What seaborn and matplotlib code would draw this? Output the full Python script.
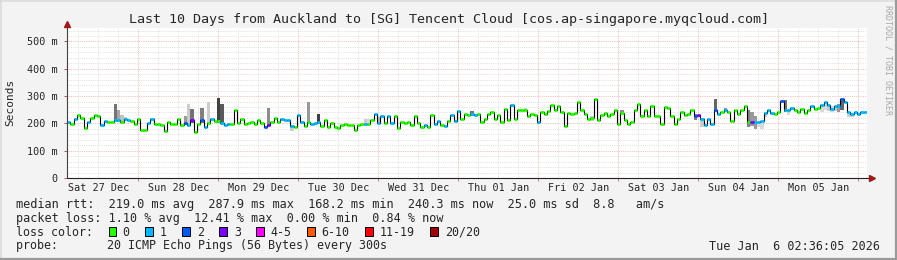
import numpy as np
import pandas as pd
import matplotlib
matplotlib.use("Agg")
import matplotlib.pyplot as plt
import seaborn as sns
from matplotlib.patches import Rectangle
from matplotlib.lines import Line2D

# ---------------- data (hourly median RTT in ms, start = 27 Dec 02:36) ----------------
median_ms = [
    205, 198, 217, 229, 220, 182, 204, 220, 229, 226,
    193, 210, 205, 205, 213, 213, 205, 216, 212, 207,
    198, 216, 177, 177, 201, 216, 198, 198, 195, 171,
    205, 198, 198, 216, 193, 201, 195, 211, 168, 198,
    211, 185, 201, 216, 207, 207, 201, 193, 198, 198,
    248, 201, 216, 199, 201, 204, 198, 211, 201, 187,
    195, 205, 220, 205, 217, 211, 211, 189, 186, 229,
    205, 189, 205, 198, 201, 205, 189, 213, 186, 201,
    186, 183, 195, 198, 195, 193, 177, 193, 198, 199,
    198, 211, 234, 201, 226, 201, 226, 200, 226, 183,
    205, 201, 205, 193, 226, 201, 186, 193, 186, 232,
    199, 210, 195, 189, 207, 232, 210, 244, 217, 236,
    229, 236, 229, 236, 204, 217, 236, 241, 217, 229,
    204, 254, 213, 268, 217, 250, 248, 250, 228, 236,
    232, 205, 241, 236, 244, 266, 248, 262, 240, 189,
    238, 234, 238, 277, 248, 236, 216, 220, 289, 211,
    229, 238, 226, 234, 248, 199, 238, 213, 199, 205,
    248, 272, 226, 248, 226, 262, 226, 228, 198, 260,
    256, 226, 198, 217, 240, 229, 236, 248, 228, 229,
    217, 193, 217, 198, 250, 234, 241, 248, 241, 207,
    248, 236, 248, 262, 204, 205, 205, 205, 207, 238,
    248, 238, 236, 240, 283, 250, 250, 256, 248, 240,
    254, 238, 248, 262, 254, 256, 268, 278, 268, 252,
    265, 262, 290, 278, 240, 236, 240, 236, 240, 240,
]

# hours with lost pings (all others: 0 lost)
loss1_hours = [0, 2, 6, 10, 11, 14, 15, 17, 18, 24, 25, 36, 41, 43, 46, 47, 48,
               64, 65, 66, 67, 69, 70, 73, 74, 75, 89, 92, 93, 94, 96, 97, 107,
               110, 111, 113, 115, 116, 117, 121, 122, 133, 141, 190, 191, 192,
               193, 195, 197, 206, 207, 208, 209, 210, 211, 215, 216, 217, 223,
               226, 227, 228, 229, 230, 231, 233, 234, 235, 236, 237, 238, 239]
loss2_hours = [35, 40, 59, 188, 194, 214, 232]
loss3_hours = [37, 60, 189, 205]

# smoke (spread of the 20 pings) where visible
smoke_hours = [14, 15, 16, 17, 35, 36, 37, 40, 42, 45, 46, 60, 67, 72, 75, 89, 90, 93,
               121, 137, 141, 157, 166, 188, 190, 194, 197, 204, 205, 206, 207, 208,
               209, 215, 216, 226, 227, 228, 229, 230, 231, 232, 234, 235]
smoke_lo = [205, 205, 205, 208, 195, 190, 200, 200, 196, 200, 200, 193, 172, 198, 200,
            198, 198, 198, 228, 245, 198, 210, 236, 212, 188, 248, 245, 185, 190, 180,
            185, 180, 225, 240, 232, 240, 250, 245, 240, 245, 240, 250, 225, 222]
smoke_hi = [272, 250, 232, 225, 228, 272, 252, 256, 280, 293, 270, 255, 195, 277, 234,
            215, 215, 225, 245, 258, 210, 228, 248, 236, 217, 289, 256, 250, 240, 228,
            205, 205, 240, 287, 250, 268, 278, 270, 262, 265, 270, 290, 240, 236]
smoke_grey = [0.45, 0.65, 0.75, 0.8, 0.6, 0.8, 0.45, 0.5, 0.8, 0.25, 0.35, 0.55, 0.8,
              0.6, 0.25, 0.8, 0.85, 0.75, 0.45, 0.8, 0.5, 0.8, 0.55, 0.5, 0.8, 0.4,
              0.6, 0.5, 0.6, 0.6, 0.85, 0.85, 0.8, 0.45, 0.85, 0.85, 0.85, 0.8, 0.85,
              0.8, 0.6, 0.4, 0.8, 0.8]

day_labels = ["Sat 27 Dec", "Sun 28 Dec", "Mon 29 Dec", "Tue 30 Dec", "Wed 31 Dec",
              "Thu 01 Jan", "Fri 02 Jan", "Sat 03 Jan", "Sun 04 Jan", "Mon 05 Jan"]
first_midnight_h = 21.4   # 28 Dec 00:00, hours after graph start
y_ticks = [0, 100, 200, 300, 400, 500]
y_tick_labels = ["0", "100 m", "200 m", "300 m", "400 m", "500 m"]

loss_labels = ["0", "1", "2", "3", "4-5", "6-10", "11-19", "20/20"]
loss_colors = ["#26ff00", "#00b8ff", "#0059ff", "#7a00ff", "#ff00ff", "#ff5a00", "#ff0000", "#a00000"]

title = "Last 10 Days from Auckland to [SG] Tencent Cloud [cos.ap-singapore.myqcloud.com]"
legend_lines = [
    "median rtt:  219.0 ms avg  287.9 ms max  168.2 ms min  240.3 ms now  25.0 ms sd  8.8   am/s",
    "packet loss: 1.10 % avg  12.41 % max  0.00 % min  0.84 % now",
    "loss color:",
    "probe:       20 ICMP Echo Pings (56 Bytes) every 300s",
]
timestamp = "Tue Jan  6 02:36:05 2026"

# ---------------- figure ----------------
sns.set_style("white")
plt.rcParams["font.family"] = ["DejaVu Sans Mono", "DejaVu Sans"]

W, H = 897, 260
fig = plt.figure(figsize=(W / 100, H / 100), dpi=100, facecolor="#f3f3f3")

def fx(px):
    return px / W

def fy(py):
    return 1 - py / H

ax = fig.add_axes([fx(67), fy(178), fx(800), 150.2 / H])
ax.set_facecolor("white")

n = len(median_ms)
hours = np.arange(n)
ax.set_xlim(0, 240)
ax.set_ylim(0, 550)

# grid
grid_minor = dict(color="#dadada", lw=0.6, ls=(0, (1, 1.2)), zorder=0)
grid_major = dict(color="#f2a8a8", lw=0.6, ls=(0, (1, 1.2)), zorder=0)
for v in range(20, 551, 20):
    if v % 100 != 0:
        ax.axhline(v, **grid_minor)
for v in y_ticks[1:]:
    ax.axhline(v, **grid_major)
day_bounds = [first_midnight_h + 24 * k for k in range(10)]
for k in range(41):
    h = first_midnight_h - 18 + 6 * k
    if 0 < h < 240 and all(abs(h - d) > 0.1 for d in day_bounds):
        ax.axvline(h, **grid_minor)
for d in day_bounds:
    ax.axvline(d, **grid_major)

# smoke
ax.bar(smoke_hours, np.array(smoke_hi) - np.array(smoke_lo), bottom=smoke_lo, width=1.0,
       align="edge", color=[str(g) for g in smoke_grey], linewidth=0, zorder=1)

# median step line (black)
df = pd.DataFrame({"h": np.append(hours, n), "ms": median_ms + [median_ms[-1]]})
sns.lineplot(data=df, x="h", y="ms", drawstyle="steps-post", color="black", lw=0.8,
             ax=ax, zorder=2, legend=False)

# coloured median segments by loss
loss = np.zeros(n, dtype=int)
loss[loss1_hours] = 1
loss[loss2_hours] = 2
loss[loss3_hours] = 3
seg_colors = [loss_colors[c] for c in loss]
ax.hlines(median_ms, hours, hours + 1, colors=seg_colors, lw=2.0, zorder=3)

ax.set_xlabel("")
ax.set_ylabel("")
for s in ax.spines.values():
    s.set_visible(False)

ax.set_yticks(y_ticks)
ax.set_yticklabels(y_tick_labels, fontsize=7.3)
ax.tick_params(axis="y", length=2.5, width=0.7, color="#c05050", pad=4, left=True)
ax.set_xticks(day_bounds)
ax.set_xticklabels([""] * len(day_bounds))
ax.tick_params(axis="x", length=2.5, width=0.7, color="#e08080", bottom=True, direction="out")

for k, lab in enumerate(day_labels):
    ax.annotate(lab, xy=(first_midnight_h - 12 + 24 * k, 0), xycoords=("data", "axes fraction"),
                xytext=(0, -7), textcoords="offset points", ha="center", va="center",
                fontsize=7.3, annotation_clip=False)

# axis lines with arrows
ax.add_line(Line2D([0, 1.006], [0, 0], transform=ax.transAxes, color="#202020", lw=0.8,
                   clip_on=False, zorder=5))
ax.add_line(Line2D([0, 0], [0, 1.01], transform=ax.transAxes, color="#404040", lw=0.8,
                   clip_on=False, zorder=5))
ax.plot([1.006], [0], marker=">", ms=4, color="#a01818", transform=ax.transAxes, clip_on=False, zorder=6)
ax.plot([0], [1.025], marker="^", ms=4, color="#a01818", transform=ax.transAxes, clip_on=False, zorder=6)

# texts
fig.text(0.5, fy(19.3), title, ha="center", va="center", fontsize=9.6)
fig.text(fx(10.5), fy(102.5), "Seconds", rotation=90, ha="center", va="center", fontsize=8)
fig.text(fx(888), fy(60), "RRDTOOL / TOBI OETIKER", rotation=270, ha="center", va="center",
         fontsize=6, color="#a8a8a8")

row_y = [204.3, 218.3, 232.0, 246.0]
row_fs = [8.58, 8.45, 8.4, 8.35]
for line, yy, fs in zip(legend_lines, row_y, row_fs):
    fig.text(fx(16), fy(yy), line, ha="left", va="center", fontsize=fs)
fig.text(fx(880), fy(246), timestamp, ha="right", va="center", fontsize=8.45)

sq_x = [108.7, 145.3, 182.3, 219.0, 256.0, 307.3, 365.3, 430.0]
lab_x = [122.7, 159.3, 196.7, 234.0, 270.7, 321.7, 380.0, 445.0]
for sx, lx, col, lab in zip(sq_x, lab_x, loss_colors, loss_labels):
    fig.patches.append(Rectangle((fx(sx), fy(235.5)), fx(7.5), 8.5 / H, transform=fig.transFigure,
                                 facecolor=col, edgecolor="black", lw=0.7, figure=fig))
    fig.text(fx(lx), fy(232.0), lab, ha="left", va="center", fontsize=8.4)

# 3-D frame
fig.add_artist(Line2D([fx(0.5), fx(0.5)], [0, 1], color="#dcdcdc", lw=1.2, transform=fig.transFigure))
fig.add_artist(Line2D([0, 1], [fy(0.5), fy(0.5)], color="#dcdcdc", lw=1.2, transform=fig.transFigure))
fig.add_artist(Line2D([fx(W - 1), fx(W - 1)], [0, 1], color="#9a9a9a", lw=1.6, transform=fig.transFigure))
fig.add_artist(Line2D([0, 1], [fy(H - 1), fy(H - 1)], color="#9a9a9a", lw=1.6, transform=fig.transFigure))

fig.savefig("out.png", dpi=100, facecolor=fig.get_facecolor())
